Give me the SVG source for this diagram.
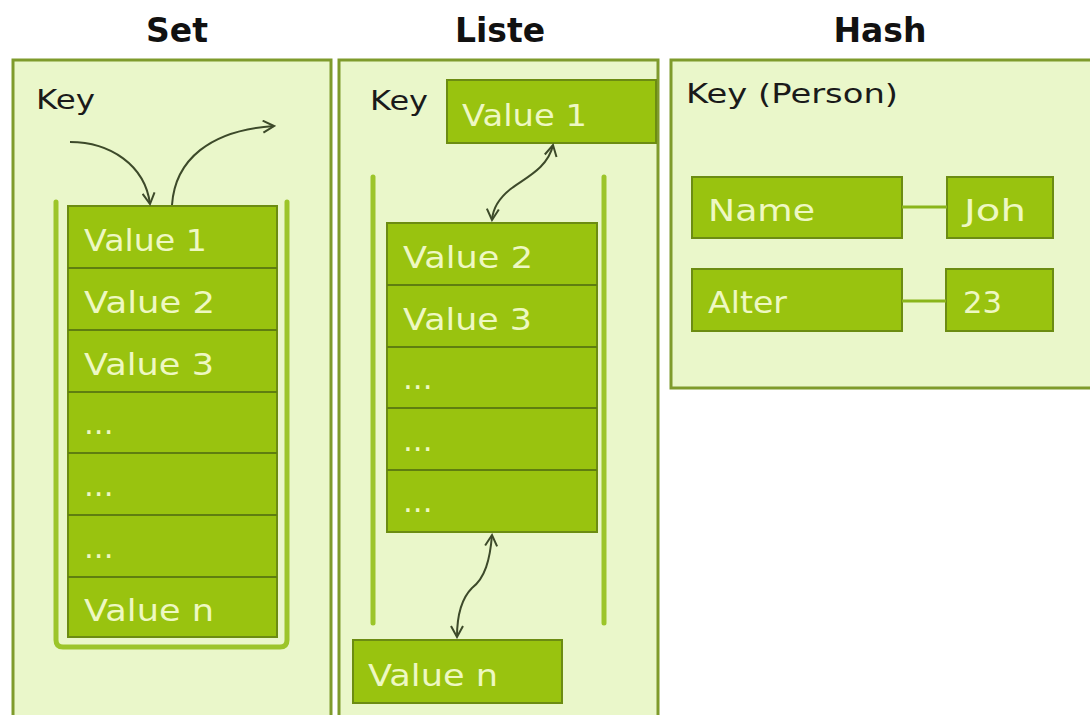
<svg xmlns="http://www.w3.org/2000/svg" width="1090" height="715" viewBox="0 0 1090 715">
<defs>
<style>
.panel{fill:#eaf7ca;stroke:#7f9b2c;stroke-width:3}
.box{fill:#99c30f;stroke:#6c8c12;stroke-width:2}
.sep{stroke:#5f7e10;stroke-width:2}
.title{font-family:"DejaVu Sans",sans-serif;font-weight:bold;font-size:33px;fill:#111;text-anchor:middle}
.key{font-family:"DejaVu Sans",sans-serif;font-size:26px;fill:#1a1a1a}
.val{font-family:"DejaVu Sans",sans-serif;font-size:31px;fill:#eef8c2}
.brk{fill:none;stroke:#9cc52a;stroke-width:5;stroke-linecap:round;stroke-linejoin:round}
.arr{fill:none;stroke:#3d4a2a;stroke-width:2}
.link{stroke:#8ab51a;stroke-width:3}
</style>
<marker id="ah" viewBox="0 0 14 14" refX="12" refY="7" markerWidth="14" markerHeight="14" markerUnits="userSpaceOnUse" orient="auto-start-reverse">
<path d="M1,1 L12,7 L1,13" fill="none" stroke="#3d4a2a" stroke-width="2"/>
</marker>
</defs>
<rect width="1090" height="715" fill="#ffffff"/>

<g id="set">
<text class="title" x="177" y="42">Set</text>
<rect class="panel" x="13" y="60" width="318" height="670"/>
<text class="key" x="36" y="109" textLength="59" lengthAdjust="spacingAndGlyphs">Key</text>
<path class="brk" d="M56,202 V640 Q56,647 63,647 H280 Q287,647 287,640 V202"/>
<rect class="box" x="68" y="206" width="209" height="431"/>
<g class="sep">
<line x1="68" y1="268" x2="277" y2="268"/>
<line x1="68" y1="330" x2="277" y2="330"/>
<line x1="68" y1="392" x2="277" y2="392"/>
<line x1="68" y1="453" x2="277" y2="453"/>
<line x1="68" y1="515" x2="277" y2="515"/>
<line x1="68" y1="577" x2="277" y2="577"/>
</g>
<text class="val" x="84" y="251" textLength="123" lengthAdjust="spacingAndGlyphs">Value 1</text>
<text class="val" x="84" y="313" textLength="131" lengthAdjust="spacingAndGlyphs">Value 2</text>
<text class="val" x="84" y="375" textLength="130" lengthAdjust="spacingAndGlyphs">Value 3</text>
<text class="val" x="84" y="434">...</text>
<text class="val" x="84" y="496">...</text>
<text class="val" x="84" y="558">...</text>
<text class="val" x="84" y="621" textLength="130" lengthAdjust="spacingAndGlyphs">Value n</text>
</g>

<g id="liste">
<text class="title" x="500" y="42">Liste</text>
<rect class="panel" x="339" y="60" width="319" height="670"/>
<text class="key" x="370" y="110" textLength="58" lengthAdjust="spacingAndGlyphs">Key</text>
<rect class="box" x="447" y="80" width="209" height="63"/>
<text class="val" x="462" y="126" textLength="125" lengthAdjust="spacingAndGlyphs">Value 1</text>
<line class="brk" x1="373" y1="177" x2="373" y2="623"/>
<line class="brk" x1="604" y1="177" x2="604" y2="623"/>
<rect class="box" x="387" y="223" width="210" height="309"/>
<g class="sep">
<line x1="387" y1="285" x2="597" y2="285"/>
<line x1="387" y1="347" x2="597" y2="347"/>
<line x1="387" y1="408" x2="597" y2="408"/>
<line x1="387" y1="470" x2="597" y2="470"/>
</g>
<text class="val" x="403" y="268" textLength="130" lengthAdjust="spacingAndGlyphs">Value 2</text>
<text class="val" x="403" y="330" textLength="129" lengthAdjust="spacingAndGlyphs">Value 3</text>
<text class="val" x="403" y="389">...</text>
<text class="val" x="403" y="451">...</text>
<text class="val" x="403" y="512">...</text>
<rect class="box" x="353" y="640" width="209" height="63"/>
<text class="val" x="368" y="686" textLength="130" lengthAdjust="spacingAndGlyphs">Value n</text>
</g>

<g id="hash">
<text class="title" x="880" y="42">Hash</text>
<rect class="panel" x="671" y="60" width="430" height="328"/>
<text class="key" x="686" y="103" textLength="212" lengthAdjust="spacingAndGlyphs">Key (Person)</text>
<rect class="box" x="692" y="177" width="210" height="61"/>
<text class="val" x="708" y="221" textLength="107" lengthAdjust="spacingAndGlyphs">Name</text>
<rect class="box" x="947" y="177" width="106" height="61"/>
<text class="val" x="964" y="221" textLength="62" lengthAdjust="spacingAndGlyphs">Joh</text>
<rect class="box" x="692" y="269" width="210" height="62"/>
<text class="val" x="708" y="313" textLength="79" lengthAdjust="spacingAndGlyphs">Alter</text>
<rect class="box" x="946" y="269" width="107" height="62"/>
<text class="val" x="963" y="313" textLength="39" lengthAdjust="spacingAndGlyphs">23</text>
</g>

<g id="connectors">
<path class="arr" d="M70,142 C110,142 145,165 150,204" marker-end="url(#ah)"/>
<path class="arr" d="M172,205 C175,160 210,130 274,126" marker-end="url(#ah)"/>
<path class="arr" d="M553,145 C548,168 525,178 512,188 C500,197 493,207 492,220" marker-start="url(#ah)" marker-end="url(#ah)"/>
<path class="arr" d="M492,535 C490,560 485,578 472,588 C462,598 457,615 457,637" marker-start="url(#ah)" marker-end="url(#ah)"/>
<line class="link" x1="902" y1="207" x2="947" y2="207"/>
<line class="link" x1="902" y1="301" x2="946" y2="301"/>
</g>
</svg>
